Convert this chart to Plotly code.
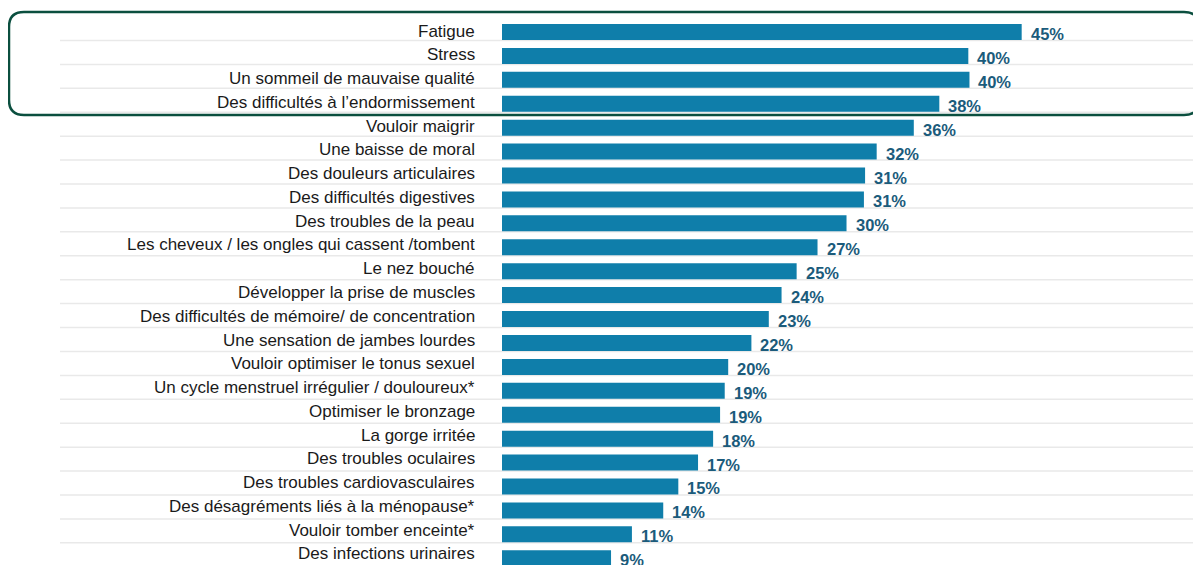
import plotly.graph_objects as go

categories = [
    "Fatigue",
    "Stress",
    "Un sommeil de mauvaise qualité",
    "Des difficultés à l’endormissement",
    "Vouloir maigrir",
    "Une baisse de moral",
    "Des douleurs articulaires",
    "Des difficultés digestives",
    "Des troubles de la peau",
    "Les cheveux / les ongles qui cassent /tombent",
    "Le nez bouché",
    "Développer la prise de muscles",
    "Des difficultés de mémoire/ de concentration",
    "Une sensation de jambes lourdes",
    "Vouloir optimiser le tonus sexuel",
    "Un cycle menstruel irrégulier / douloureux*",
    "Optimiser le bronzage",
    "La gorge irritée",
    "Des troubles oculaires",
    "Des troubles cardiovasculaires",
    "Des désagréments liés à la ménopause*",
    "Vouloir tomber enceinte*",
    "Des infections urinaires",
]
# bar lengths as measured, labels as printed
values = [44.8, 40.2, 40.3, 37.7, 35.5, 32.3, 31.3, 31.2, 29.7, 27.2, 25.4, 24.1,
          23.0, 21.5, 19.5, 19.2, 18.8, 18.2, 16.9, 15.2, 13.9, 11.2, 9.4]
labels = ["45%", "40%", "40%", "38%", "36%", "32%", "31%", "31%", "30%", "27%", "25%", "24%",
          "23%", "22%", "20%", "19%", "19%", "18%", "17%", "15%", "14%", "11%", "9%"]

# page body has an 8px margin, so the figure is 8px smaller and shifted
OFF = 8
W, H = 1201 - OFF, 565 - OFF
L = 502 - OFF
PW = W - L
PX_PER_PCT = 11.6
ROW = 23.92
FIRST = 32.0 - OFF

BAR = "#0f7eaa"
VAL = "#1b5b7b"
BOX = "#0b4f3f"
GRID = "#e9e9e9"
FONT = "Liberation Sans, Arial"

idx = list(range(len(categories)))

fig = go.Figure(go.Bar(
    x=values, y=idx, orientation="h",
    marker=dict(color=BAR, line=dict(width=0)),
    width=16 / ROW,
    hoverinfo="skip",
))

# category names, right aligned left of the bars (they drift up slightly in the original)
for i, c in enumerate(categories):
    fig.add_annotation(x=0, xref="paper", y=i, yref="y", text=c, showarrow=False,
                       xanchor="right", yanchor="middle", xshift=-25, yshift=1 + 0.15 * i,
                       font=dict(family=FONT, size=17, color="#1a1a1a"))

# value labels at the bar ends
for i, (v, t) in enumerate(zip(values, labels)):
    fig.add_annotation(x=v, y=i, text="<b>%s</b>" % t, showarrow=False,
                       xanchor="left", yanchor="middle", xshift=7, yshift=-2,
                       font=dict(family=FONT, size=16.5, color=VAL))

# separators under each row
gx0 = (60 - OFF - L) / PW
shapes = []
for i in idx:
    shapes.append(dict(type="line", xref="paper", yref="y", x0=gx0, x1=1,
                       y0=i + 8.5 / ROW, y1=i + 8.5 / ROW,
                       line=dict(color=GRID, width=1.5), layer="below"))

# rounded frame around the top 4 rows (pixel coords -> paper)
def px(x):
    return (x - OFF - L) / PW

def py(y):
    return 1 - (y - OFF) / H

bx0, bx1, by0, by1, r = 9, 1199, 12, 115, 15
path = (
    f"M {px(bx0 + r)} {py(by0)} L {px(bx1 - r)} {py(by0)} "
    f"Q {px(bx1)} {py(by0)} {px(bx1)} {py(by0 + r)} "
    f"L {px(bx1)} {py(by1 - r)} "
    f"Q {px(bx1)} {py(by1)} {px(bx1 - r)} {py(by1)} "
    f"L {px(bx0 + r)} {py(by1)} "
    f"Q {px(bx0)} {py(by1)} {px(bx0)} {py(by1 - r)} "
    f"L {px(bx0)} {py(by0 + r)} "
    f"Q {px(bx0)} {py(by0)} {px(bx0 + r)} {py(by0)} Z"
)
shapes.append(dict(type="path", xref="paper", yref="paper", path=path,
                   line=dict(color=BOX, width=2.5), fillcolor="rgba(0,0,0,0)"))

fig.update_layout(
    width=W, height=H,
    margin=dict(l=L, r=0, t=0, b=0),
    plot_bgcolor="white", paper_bgcolor="white",
    showlegend=False,
    shapes=shapes,
    font=dict(family=FONT, size=17, color="#1a1a1a"),
    xaxis=dict(range=[0, PW / PX_PER_PCT], visible=False, fixedrange=True),
    yaxis=dict(
        range=[(H - FIRST) / ROW, -FIRST / ROW],
        showticklabels=False, ticks="",
        showgrid=False, zeroline=False, showline=False,
        fixedrange=True,
    ),
)

fig.write_html("out.html", config={"displayModeBar": False})
